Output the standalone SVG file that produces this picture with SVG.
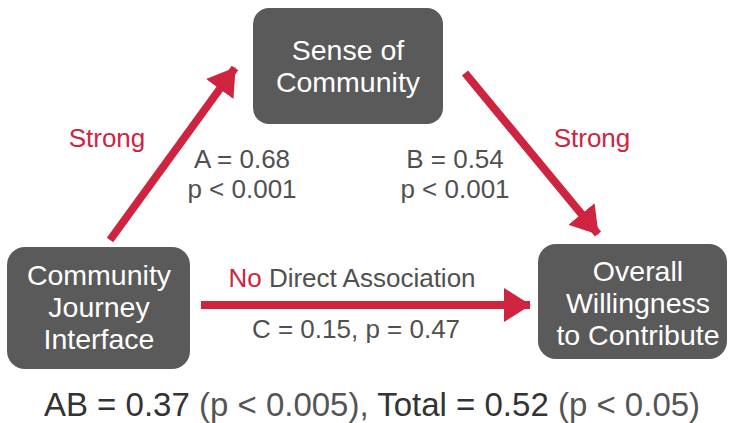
<svg xmlns="http://www.w3.org/2000/svg" width="729" height="423" viewBox="0 0 729 423">
<defs>
<marker id="ah" markerUnits="userSpaceOnUse" markerWidth="27" markerHeight="34" refX="26" refY="17" orient="auto" viewBox="0 0 27 34">
<path d="M0,0 L27,17 L0,34 z" fill="#cf2440"/>
</marker>
<style>
.box{fill:#5a5a5a}
.bt{font-family:"Liberation Sans",Arial,sans-serif;font-size:28.5px;fill:#ffffff;text-anchor:middle}
.lb{font-family:"Liberation Sans",Arial,sans-serif;font-size:26px;fill:#505050;text-anchor:middle}
.red{fill:#cf2440}
.ar{stroke:#cf2440;stroke-width:8;fill:none;marker-end:url(#ah)}
</style>
</defs>
<rect width="729" height="423" fill="#ffffff"/>
<g id="connectors">
<line class="ar" x1="110" y1="240" x2="235" y2="68"/>
<line class="ar" x1="465" y1="73" x2="598" y2="234"/>
<line class="ar" x1="201" y1="305" x2="530" y2="305"/>
</g>
<g id="sense">
<rect class="box" x="253" y="8" width="190" height="116" rx="16"/>
<text class="bt" x="348" y="60">Sense of</text>
<text class="bt" x="348" y="92">Community</text>
</g>
<g id="journey">
<rect class="box" x="7" y="247" width="183" height="122" rx="18"/>
<text class="bt" x="99" y="285">Community</text>
<text class="bt" x="99" y="317">Journey</text>
<text class="bt" x="99" y="349">Interface</text>
</g>
<g id="willingness">
<rect class="box" x="538" y="244" width="189" height="115" rx="18"/>
<text class="bt" x="638" y="281">Overall</text>
<text class="bt" x="638" y="313">Willingness</text>
<text class="bt" x="638" y="345">to Contribute</text>
</g>
<g id="labels">
<text class="lb red" x="107" y="147">Strong</text>
<text class="lb red" x="592" y="147">Strong</text>
<text class="lb" x="242" y="168">A = 0.68</text>
<text class="lb" x="242" y="198">p &lt; 0.001</text>
<text class="lb" x="455" y="168">B = 0.54</text>
<text class="lb" x="455" y="198">p &lt; 0.001</text>
<text class="lb" x="352" y="287"><tspan class="red">No</tspan> Direct Association</text>
<text class="lb" x="356" y="338">C = 0.15, p = 0.47</text>
<text class="lb" x="372" y="416" style="font-size:33px;fill:#333"><tspan>AB = 0.37</tspan><tspan fill="#555"> (p &lt; 0.005), </tspan><tspan>Total = 0.52</tspan><tspan fill="#555"> (p &lt; 0.05)</tspan></text>
</g>
</svg>
